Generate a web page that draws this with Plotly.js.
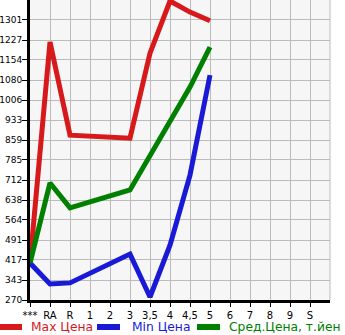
<!DOCTYPE html>
<html>
<head>
<meta charset="utf-8">
<script src="https://cdn.plot.ly/plotly-3.0.1.min.js"></script>
<style>html,body{margin:0;padding:0;background:#fff;}#chart{width:345px;height:335px;}</style>
</head>
<body>
<div id="chart"></div>
<script>
const categories = ['***','RA','R','1','2','3','3,5','4','4,5','5','6','7','8','9','S'];
const maxPrice = [406, 1220, 877, null, null, 866, 1179, 1371, 1330, 1298, null, null, null, null, null];
const minPrice = [406, 329, 333, null, null, 439, 281, 472, 730, 1098, null, null, null, null, null];
const avgPrice = [406, 701, 609, null, null, 675, null, null, 1054, 1201, null, null, null, null, null];
const yTickVals = [270, 343.6, 417.3, 490.9, 564.6, 638.2, 711.8, 785.5, 859.1, 932.7, 1006.4, 1080, 1153.7, 1227.3, 1301];
const yTickText = ['270','343','417','491','564','638','712','785','859','933','1006','1080','1154','1227','1301'];
const seriesNames = ['Max Цена', 'Min Цена', 'Сред.Цена, т.йен'];
const seriesColors = ['#d7191c', '#1a1ad6', '#008000'];

const seriesData = [maxPrice, minPrice, avgPrice];
const traces = seriesData.map((vals, i) => ({
  x: categories, y: vals, type: 'scatter', mode: 'lines', connectgaps: true,
  name: seriesNames[i], line: {color: seriesColors[i], width: 5}, showlegend: false
}));

const font = {family: 'DejaVu Sans', size: 10, color: '#000'};
const yfont = {family: 'DejaVu Sans', size: 9, color: '#000'};
const legendY = -0.09;
const legendLayout = [[-0.1, -0.0267, -0.0033], [0.2233, 0.3, 0.3333], [0.5567, 0.6333, 0.6567]];
const shapes = legendLayout.map((p, i) => ({
  type: 'line', xref: 'paper', yref: 'paper', x0: p[0], x1: p[1], y0: legendY, y1: legendY,
  line: {color: seriesColors[i], width: 6}
}));
shapes.push({type: 'line', xref: 'paper', yref: 'paper', x0: 1, x1: 1, y0: 0, y1: 1, line: {color: '#bbbbbb', width: 1}});
const annotations = legendLayout.map((p, i) => ({
  xref: 'paper', yref: 'paper', x: p[2], y: legendY, xanchor: 'left', yanchor: 'middle',
  text: seriesNames[i], showarrow: false, font: {family: 'DejaVu Sans', size: 12.3, color: seriesColors[i]}
}));

const layout = {
  width: 345, height: 335,
  margin: {l: 30, r: 15, t: 0, b: 35},
  paper_bgcolor: '#ffffff', plot_bgcolor: '#f6f6f6',
  font: font, showlegend: false,
  xaxis: {
    type: 'category', range: [0, 15], tickvals: categories, ticktext: categories,
    showgrid: true, gridcolor: '#bbbbbb', gridwidth: 1,
    showline: true, linecolor: '#000', linewidth: 3,
    ticks: 'outside', ticklen: 4, tickcolor: '#000', tickfont: font, zeroline: false
  },
  yaxis: {
    range: [270, 1374.6], tickvals: yTickVals, ticktext: yTickText,
    showgrid: true, gridcolor: '#bbbbbb', gridwidth: 1,
    showline: true, linecolor: '#000', linewidth: 3,
    ticks: 'outside', ticklen: 5, tickcolor: '#000', tickfont: yfont, zeroline: false,
    ticklabelstandoff: -2
  },
  shapes: shapes, annotations: annotations
};

Plotly.newPlot('chart', traces, layout, {staticPlot: true, displayModeBar: false});
</script>
</body>
</html>
